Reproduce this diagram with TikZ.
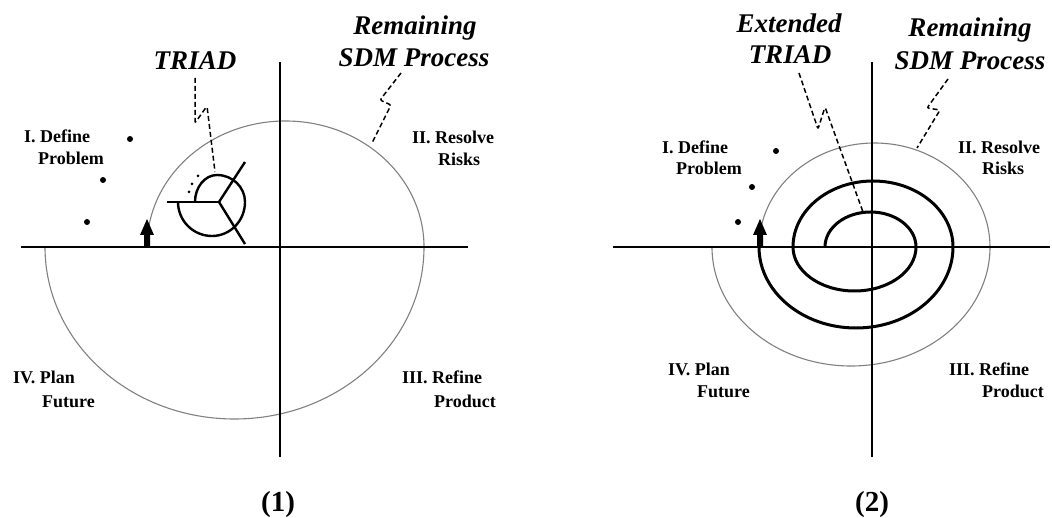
\documentclass[tikz,border=0pt]{standalone}
\usepackage{fontspec}
\setmainfont{Liberation Serif}
\begin{document}
\definecolor{arcgray}{RGB}{128,128,128}
\begin{tikzpicture}[x=1pt,y=1pt,
  axisline/.style={line width=2pt, draw=black},
  remain/.style={draw=arcgray, line width=1.1pt},
  spiralline/.style={line width=3pt, draw=black},
  triadline/.style={line width=2.4pt, draw=black},
  conn/.style={draw=black, dash pattern=on 5pt off 3pt, line width=1.5pt, rounded corners=2pt},
  quad/.style={font=\fontsize{18}{22}\selectfont\bfseries, inner sep=0pt, anchor=base west},
  big/.style={font=\fontsize{27}{33}\selectfont\bfseries\itshape, inner sep=0pt, anchor=base},
  capt/.style={font=\fontsize{29}{33}\selectfont\bfseries, inner sep=0pt, anchor=base},
  uparrow/.style={fill=black}
]
\useasboundingbox (0,0) rectangle (1052,517);

% ---------------- Panel 1 ----------------
\draw[remain] (147,270) arc[start angle=180,end angle=0,x radius=138.5,y radius=126]
                        arc[start angle=0,end angle=-180,x radius=189.5,y radius=172];
\draw[axisline] (21,270) -- (468,270);
\draw[axisline] (280,455) -- (280,60);
\fill[uparrow] (144,270) -- (144,282) -- (140,282) -- (147,298) -- (154,282) -- (150,282) -- (150,270) -- cycle;
\fill (130,378) circle (3);
\fill (103,337) circle (3);
\fill (87,295) circle (3);

% TRIAD symbol
\draw[triadline] (219,315) -- (167,315);
\draw[triadline] (219,315) -- (245,355);
\draw[triadline] (219,315) -- (245,273);
\draw[triadline] (195,315) arc[start angle=180,end angle=90,x radius=22,y radius=27]
                           arc[start angle=90,end angle=0,x radius=28,y radius=27]
                           arc[start angle=0,end angle=-90,x radius=33,y radius=34]
                           arc[start angle=-90,end angle=-180,x radius=34,y radius=34];
\fill (198,341) circle (1.5);
\fill (192,333) circle (1.5);
\fill (189,325) circle (1.5);

\node[quad] (def1a) at (24,374) {I. Define};
\node[quad] (def1b) at (38,352) {Problem};
\node[quad] (res1a) at (412,373) {II. Resolve};
\node[quad] (res1b) at (438,351) {Risks};
\node[quad] (pln1a) at (13,133) {IV. Plan};
\node[quad] (pln1b) at (42,110) {Future};
\node[quad] (ref1a) at (402,133) {III. Refine};
\node[quad] (ref1b) at (434,110) {Product};

\node[big] (tr1) at (195,447) {TRIAD};
\node[big] (sdm1a) at (415,482) {Remaining};
\node[big] (sdm1b) at (414,450) {SDM Process};
\node[capt] (cap1) at (278,6) {(1)};

\coordinate (t1e) at (215,345);
\coordinate (s1e) at (372,374);
\draw[conn] ([yshift=-8pt]tr1.base) -- (195,394) -- (207,411) -- (t1e);
\draw[conn] ([xshift=-13pt,yshift=-6pt]sdm1b.base) -- (380,417) -- (391,412) -- (s1e);

% ---------------- Panel 2 ----------------
\draw[remain] (759,270) arc[start angle=180,end angle=0,x radius=115.5,y radius=104]
                        arc[start angle=0,end angle=-180,x radius=139,y radius=119];
\draw[spiralline] (825,270) arc[start angle=180,end angle=0,x radius=45.5,y radius=35]
                            arc[start angle=0,end angle=-180,x radius=61.5,y radius=44]
                            arc[start angle=180,end angle=0,x radius=80,y radius=66]
                            arc[start angle=0,end angle=-180,x radius=97,y radius=81];
\draw[axisline] (613,270) -- (1050,270);
\draw[axisline] (872,455) -- (872,60);
\fill[uparrow] (757,270) -- (757,282) -- (753,282) -- (760,298) -- (767,282) -- (763,282) -- (763,270) -- cycle;
\fill (776,366) circle (3);
\fill (752,330) circle (3);
\fill (738,295) circle (3);

\node[quad] (def2a) at (662,363) {I. Define};
\node[quad] (def2b) at (676,342) {Problem};
\node[quad] (res2a) at (958,363) {II. Resolve};
\node[quad] (res2b) at (982,342) {Risks};
\node[quad] (pln2a) at (668,141) {IV. Plan};
\node[quad] (pln2b) at (697,119) {Future};
\node[quad] (ref2a) at (949,141) {III. Refine};
\node[quad] (ref2b) at (982,119) {Product};

\node[big] (tr2a) at (789,484) {Extended};
\node[big] (tr2b) at (790,453) {TRIAD};
\node[big] (sdm2a) at (970,480) {Remaining};
\node[big] (sdm2b) at (970,447) {SDM Process};
\node[capt] (cap2) at (872,6) {(2)};

\coordinate (t2e) at (863,305);
\coordinate (s2e) at (917,369);
\draw[conn] ([xshift=9pt,yshift=-9pt]tr2b.base) -- (818,388) -- (825,410) -- (t2e);
\draw[conn] ([xshift=-22pt,yshift=-9pt]sdm2b.base) -- (927,409) -- (940,407) -- (s2e);
\end{tikzpicture}
\end{document}
